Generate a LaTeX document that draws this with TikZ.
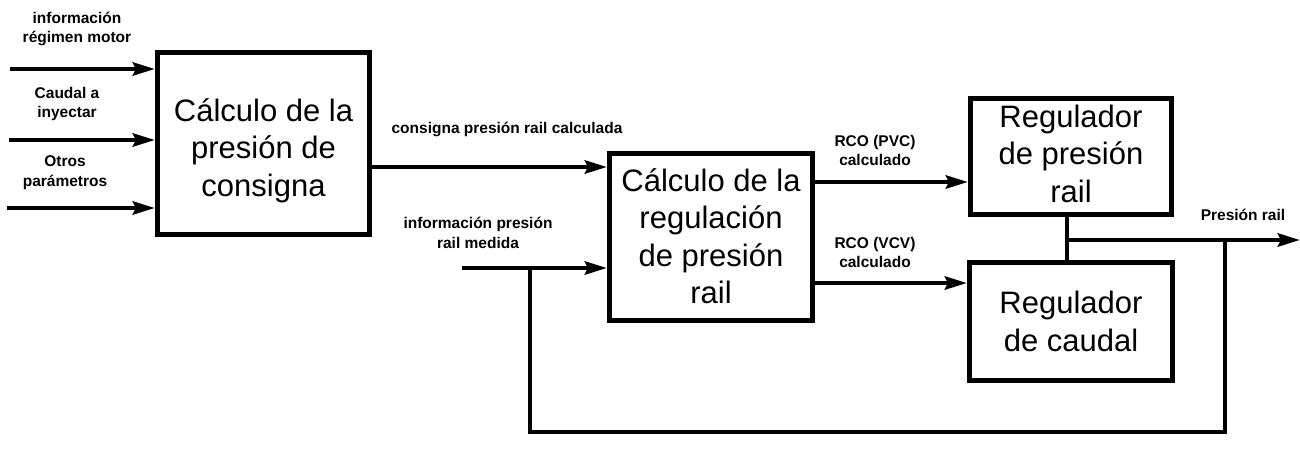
\documentclass[tikz,border=0pt]{standalone}
\usepackage{fontspec}
\setmainfont{Liberation Sans}
\usetikzlibrary{arrows.meta}
\begin{document}
\begin{tikzpicture}[x=1pt,y=-1pt,
  box/.style={draw,line width=5pt,rectangle,inner sep=0pt},
  boxtxt/.style={align=center,inner sep=0pt,font=\fontsize{31}{37.5}\selectfont},
  lbl/.style={align=center,inner sep=0pt,font=\bfseries\fontsize{15.5}{19.5}\selectfont},
  wire/.style={line width=4.5pt},
  arr/.style={line width=4.5pt,-{Stealth[length=22pt,width=13pt,inset=3pt]}}]
\useasboundingbox (0,0) rectangle (1300,452);
% boxes
\node[box,minimum width=212pt,minimum height=182pt] (b1) at (263.5,143.5) {};
\node[boxtxt] (t1) at ([yshift=-7pt]b1.center) {Cálculo de la\\presión de\\consigna};
\node[box,minimum width=203pt,minimum height=167pt] (b2) at (711,237) {};
\node[boxtxt] (t2) at ([yshift=1pt]b2.center) {Cálculo de la\\regulación\\de presión\\rail};
\node[box,minimum width=201pt,minimum height=116pt] (b3) at (1071,156.5) {};
\node[boxtxt] (t3) at ([yshift=3pt]b3.center) {Regulador\\de presión\\rail};
\node[box,minimum width=203pt,minimum height=118pt] (b4) at (1071,321.5) {};
\node[boxtxt] (t4) at (b4.center) {Regulador\\de caudal};
% coordinates
\coordinate (i1) at (10,69);
\coordinate (i2) at (9,140);
\coordinate (i3) at (7,208);
\coordinate (cons) at (0,167);
\coordinate (pvc) at (0,182);
\coordinate (vcv) at (0,283);
\coordinate (med) at (462,268);
\coordinate (j) at (1067,240);
\coordinate (out) at (1300,240);
\coordinate (fb1) at (1225,240);
\coordinate (fb2) at (1225,432);
\coordinate (fb3) at (530,432);
\coordinate (fb4) at (530,268);
% connectors
\draw[arr] (i1) -- (i1 -| b1.west);
\draw[arr] (i2) -- (i2 -| b1.west);
\draw[arr] (i3) -- (i3 -| b1.west);
\draw[arr] (b1.east |- cons) -- (b2.west |- cons);
\draw[arr] (med) -- (b2.west |- med);
\draw[arr] (b2.east |- pvc) -- (b3.west |- pvc);
\draw[arr] (b2.east |- vcv) -- (b4.west |- vcv);
\draw[wire] (b3.south -| j) -- (b4.north -| j);
\draw[arr] (j) -- (out);
\draw[wire] (fb1) -- (fb2) -- (fb3) -- (fb4);
% labels
\node[lbl] (l1) at (77,29) {información\\régimen motor};
\node[lbl] (l2) at (67,104) {Caudal a\\inyectar};
\node[lbl] (l3) at (65,172.5) {Otros\\parámetros};
\node[lbl] (l4) at (507,129) {consigna presión rail calculada};
\node[lbl] (l5) at (478,233) {información presión\\rail medida};
\node[lbl] (l6) at (875,150.5) {RCO (PVC)\\calculado};
\node[lbl] (l7) at (875,252.5) {RCO (VCV)\\calculado};
\node[lbl] (l8) at (1243,215) {Presión rail};
\end{tikzpicture}
\end{document}
